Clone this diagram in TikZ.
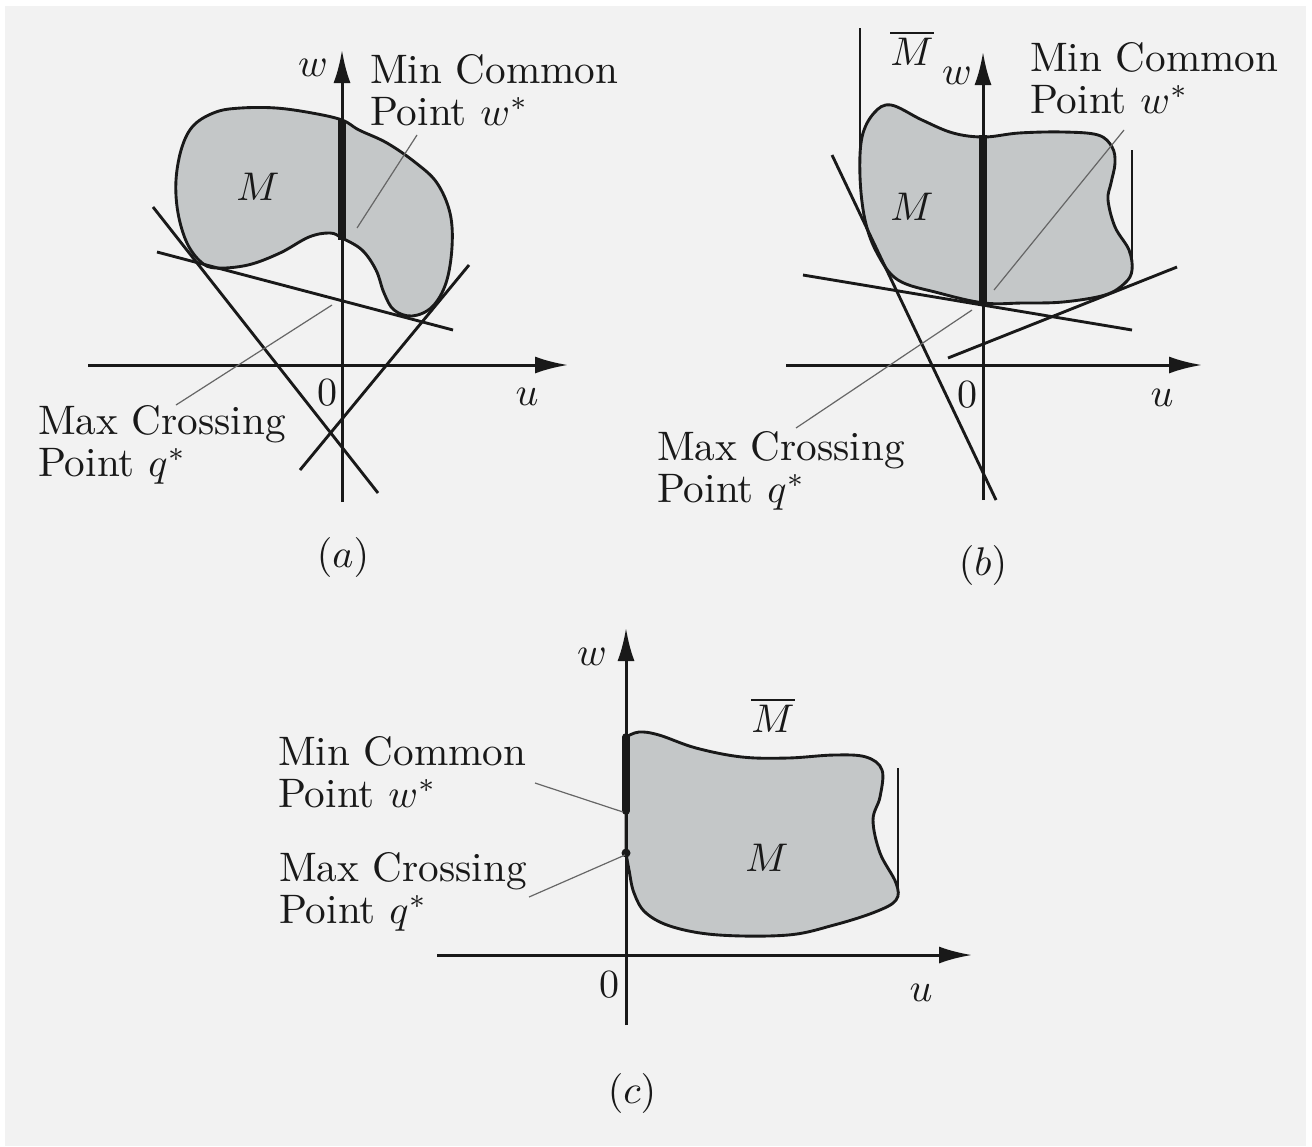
\documentclass[tikz,border=0pt]{standalone}
\usetikzlibrary{arrows.meta}
\definecolor{bgc}{RGB}{242,242,242}
\definecolor{fillc}{RGB}{196,199,200}
\definecolor{ink}{RGB}{25,25,25}
\begin{document}
\begin{tikzpicture}[x=0.25pt,y=-0.25pt,
  every node/.style={inner sep=0pt,outer sep=0pt,text=ink,font=\fontsize{10.3}{10.5}\selectfont},
  axis/.style={draw=ink,line width=0.75pt,-{Latex[length=8.25pt,width=4.25pt]}},
  ln/.style={draw=ink,line width=0.72pt},
  blob/.style={draw=ink,line width=0.72pt,fill=fillc},
  thick seg/.style={draw=ink,line width=2pt},
  leader/.style={draw=black!60,line width=0.3pt},
  lbl/.style={anchor=north west,align=left}]
\useasboundingbox (0,0) rectangle (1312,1146);
\fill[bgc] (5,6) rectangle (1306,1146);

% ---------------- panel (a)
\draw[blob] plot[smooth cycle,tension=0.6] coordinates {
 (216,112) (241,108) (276,108) (312,113) (342,120) (359,130) (387,143) (416,163)
 (437,183) (450,213) (452,247) (446,283) (432,307) (412,316) (394,310) (384,293)
 (376,270) (362,250) (342,238) (330,233) (309,237) (280,253) (248,265) (216,268)
 (201,262) (187,243) (178,213) (176,180) (182,147) (194,125)};
\draw[ln] (153,207) -- (378,493);
\draw[ln] (469,265) -- (300,470);
\draw[ln] (157,252) -- (453,330);
\draw[axis] (88,365) -- (568,365);
\draw[axis] (342,502) -- (342,50);
\draw[thick seg] (342,120) -- (342,240);
\node (aM) at (258,187) {$M$};
\node (aw) at (313,68) {$w$};
\node (a0) at (327,393) {$0$};
\node (au) at (527,397) {$u$};
\node[lbl] (amin) at (370,54) {Min Common\\Point $w^*$};
\node[lbl] (amax) at (38,405) {Max Crossing\\Point $q^*$};
\node (acap) at (343,557) {$(a)$};
\coordinate (aminS) at (417,135);
\coordinate (aminE) at (357,228);
\coordinate (amaxS) at (176,405);
\coordinate (amaxE) at (332,305);
\draw[leader] (aminS) -- (aminE);
\draw[leader] (amaxS) -- (amaxE);

% ---------------- panel (b)
\draw[blob] plot[smooth cycle,tension=0.6] coordinates {
 (891,105) (922,120) (953,133) (984,137) (1019,133) (1063,132) (1098,135)
 (1112,147) (1115,163) (1111,183) (1108,200) (1115,227) (1129,250) (1132,270)
 (1125,283) (1105,295) (1063,302) (1022,303) (984,303) (939,293) (898,280)
 (877,253) (865,220) (860,177) (862,137) (874,113)};
\draw[ln] (860,28) -- (860,180);
\draw[ln] (1132,150) -- (1132,262);
\draw[ln] (832,155) -- (996,500);
\draw[ln] (803,275) -- (1132,330);
\draw[ln] (948,358) -- (1177,267);
\draw[axis] (786,365) -- (1202,365);
\draw[axis] (983,500) -- (983,52);
\draw[thick seg,line width=2.1pt] (983,135) -- (983,303);
\node (bM) at (912,207) {$M$};
\node (bMb) at (912,48) {$\overline{M}$};
\node (bw) at (957,76) {$w$};
\node (b0) at (967,395) {$0$};
\node (bu) at (1162,398) {$u$};
\node[lbl] (bmin) at (1030,42) {Min Common\\Point $w^*$};
\node[lbl] (bmax) at (657,431) {Max Crossing\\Point $q^*$};
\node (bcap) at (983,565) {$(b)$};
\coordinate (bminS) at (1124,130);
\coordinate (bminE) at (994,290);
\coordinate (bmaxS) at (796,428);
\coordinate (bmaxE) at (972,310);
\draw[leader] (bminS) -- (bminE);
\draw[leader] (bmaxS) -- (bmaxE);

% ---------------- panel (c)
\draw[blob] (626,853) -- plot[smooth,tension=0.6] coordinates {
 (626,737) (639,732) (659,735) (696,748) (742,757) (788,758) (834,755)
 (866,757) (882,770) (880,797) (873,820) (880,853) (896,883) (896,900)
 (875,912) (834,925) (788,935) (719,935) (673,927) (646,913) (634,893)
 (629,870) (626,853)} -- cycle;
\draw[ln] (898,768) -- (898,887);
\draw[axis] (437,955) -- (972,955);
\draw[axis] (626,1025) -- (626,628);
\draw[thick seg,line cap=round,line width=1.9pt] (626,737) -- (626,811);
\fill[ink] (626,853) circle (4.5);
\node (cM) at (767,858) {$M$};
\node (cMb) at (773,715) {$\overline{M}$};
\node (cw) at (592,657) {$w$};
\node (c0) at (609,985) {$0$};
\node (cu) at (921,993) {$u$};
\node[lbl] (cmin) at (278,736) {Min Common\\Point $w^*$};
\node[lbl] (cmax) at (279,852) {Max Crossing\\Point $q^*$};
\node (ccap) at (632,1093) {$(c)$};
\coordinate (cminS) at (535,783);
\coordinate (cminE) at (623,812);
\coordinate (cmaxS) at (529,897);
\coordinate (cmaxE) at (625,855);
\draw[leader] (cminS) -- (cminE);
\draw[leader] (cmaxS) -- (cmaxE);
\end{tikzpicture}
\end{document}
